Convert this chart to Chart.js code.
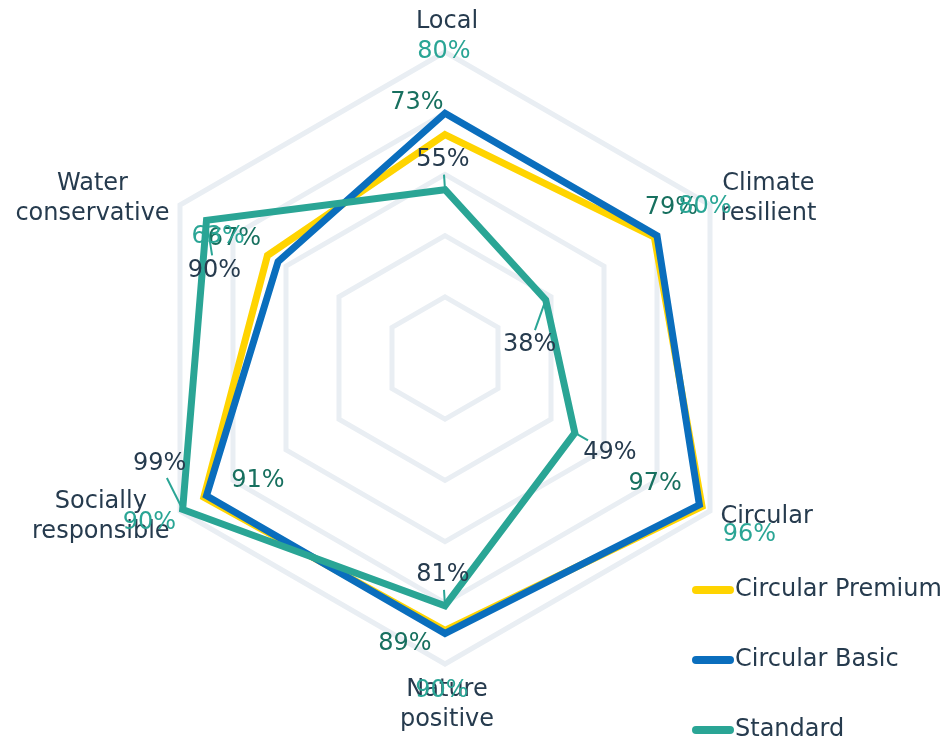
<!DOCTYPE html>
<html lang="en">
<head>
  <meta charset="UTF-8" />
  <title>Sustainability radar</title>
  <script src="https://cdn.jsdelivr.net/npm/chart.js"></script>
  <style>
    html, body { margin: 0; padding: 0; background: #ffffff; }
    .wrap { position: relative; width: 946px; height: 740px; }
  </style>
</head>
<body>
  <div class="wrap"><canvas id="radar"></canvas></div>

  <script>
    const categories = [['Local'], ['Climate', 'resilient'], ['Circular'], ['Nature', 'positive'], ['Socially', 'responsible'], ['Water', 'conservative']];
    const seriesNames = ['Circular Premium', 'Circular Basic', 'Standard'];
    const premium = [73, 79, 97, 89, 91, 67];
    const basic = [80, 80, 96, 90, 90, 63];
    const standard = [55, 38, 49, 81, 99, 90];
    const scaleTicks = [0, 20, 40, 60, 80, 100];

    const lineColors = ['#ffd400', '#0a6ebd', '#2aa595'];
    const valueColors = ['#17705f', '#2aa595', '#263b4e'];
    const textColor = '#263b4e';
    const font = '24px "DejaVu Sans", sans-serif';

    // where each value label sits, relative to its point
    const labelShift = [
      [[-28, -32], [17, -29], [-47, -23], [-40, 13], [54, -16], [-33, -17]],
      [[-1, -61], [48, -29], [50, 30], [-3, 57], [-57, 27], [-60, -25]],
      [[-2, -30], [-16, 45], [35, 20], [-2, -31], [-23, -46], [8, 50]]
    ];

    const labelsPlugin = {
      id: 'labelsPlugin',
      afterDraw(chart) {
        const ctx = chart.ctx;
        const r = chart.scales.r;
        ctx.save();
        ctx.font = font;

        // axis labels (multi-line blocks centred on themselves)
        ctx.fillStyle = textColor;
        ctx.textAlign = 'center';
        ctx.textBaseline = 'middle';
        const lh = 30;
        categories.forEach((lines, i) => {
          const p = r.getPointPosition(i, r.drawingArea + 12);
          const dx = p.x - r.xCenter;
          const bw = Math.max(...lines.map(t => ctx.measureText(t).width));
          let cx = p.x, cy = p.y;
          if (Math.abs(dx) < 1) {
            cx = p.x + 2;
            cy = p.y < r.yCenter ? p.y - 18 - (lines.length - 1) * lh / 2 : p.y + 14 + (lines.length - 1) * lh / 2;
          } else {
            cx = dx > 0 ? p.x + bw / 2 : p.x - bw / 2;
          }
          const y0 = cy - (lines.length - 1) * lh / 2;
          lines.forEach((t, k) => ctx.fillText(t, cx, y0 + k * lh));
        });

        // value labels
        chart.data.datasets.forEach((ds, i) => {
          const meta = chart.getDatasetMeta(i);
          meta.data.forEach((pt, j) => {
            const txt = ds.data[j] + '%';
            const lx = pt.x + labelShift[i][j][0];
            const ly = pt.y + labelShift[i][j][1];
            if (i === 2) {
              // leader line for the standard series
              const dx = lx - pt.x, dy = ly - pt.y;
              const len = Math.hypot(dx, dy);
              const hw = ctx.measureText(txt).width / 2, hh = 10;
              const ux = dx / len, uy = dy / len;
              const edge = Math.min(ux ? hw / Math.abs(ux) : 1e9, uy ? hh / Math.abs(uy) : 1e9);
              const endLen = len - edge - 5;
              if (endLen > 2) {
                ctx.strokeStyle = lineColors[2];
                ctx.lineWidth = 2;
                ctx.beginPath();
                ctx.moveTo(pt.x, pt.y);
                ctx.lineTo(pt.x + ux * endLen, pt.y + uy * endLen);
                ctx.stroke();
              }
            }
            ctx.fillStyle = valueColors[i];
            ctx.textAlign = 'center';
            ctx.textBaseline = 'middle';
            ctx.fillText(txt, lx, ly);
          });
        });

        // legend
        chart.data.datasets.forEach((ds, i) => {
          const y = 590 + i * 70;
          ctx.strokeStyle = ds.borderColor;
          ctx.lineWidth = 8;
          ctx.lineCap = 'round';
          ctx.beginPath();
          ctx.moveTo(696, y);
          ctx.lineTo(730, y);
          ctx.stroke();
          ctx.fillStyle = textColor;
          ctx.textAlign = 'left';
          ctx.textBaseline = 'middle';
          ctx.fillText(ds.label, 735, y);
        });
        ctx.restore();
      }
    };

    new Chart(document.getElementById('radar'), {
      type: 'radar',
      data: {
        labels: categories,
        datasets: [
          { label: seriesNames[0], data: premium, borderColor: lineColors[0], order: 3 },
          { label: seriesNames[1], data: basic, borderColor: lineColors[1], order: 2 },
          { label: seriesNames[2], data: standard, borderColor: lineColors[2], order: 1 }
        ]
      },
      options: {
        responsive: true,
        maintainAspectRatio: false,
        animation: false,
        layout: { padding: { top: 52, bottom: 76, left: 0, right: 56 } },
        elements: {
          line: { borderWidth: 7, tension: 0, fill: false, borderJoinStyle: 'miter' },
          point: { radius: 0, hoverRadius: 0 }
        },
        scales: {
          r: {
            min: scaleTicks[0],
            max: scaleTicks[scaleTicks.length - 1],
            ticks: { stepSize: scaleTicks[1] - scaleTicks[0], display: false },
            grid: { color: '#e9eef3', lineWidth: 5 },
            angleLines: { display: false },
            pointLabels: { display: false }
          }
        },
        plugins: {
          legend: { display: false },
          tooltip: { enabled: false }
        }
      },
      plugins: [labelsPlugin]
    });
  </script>
</body>
</html>
